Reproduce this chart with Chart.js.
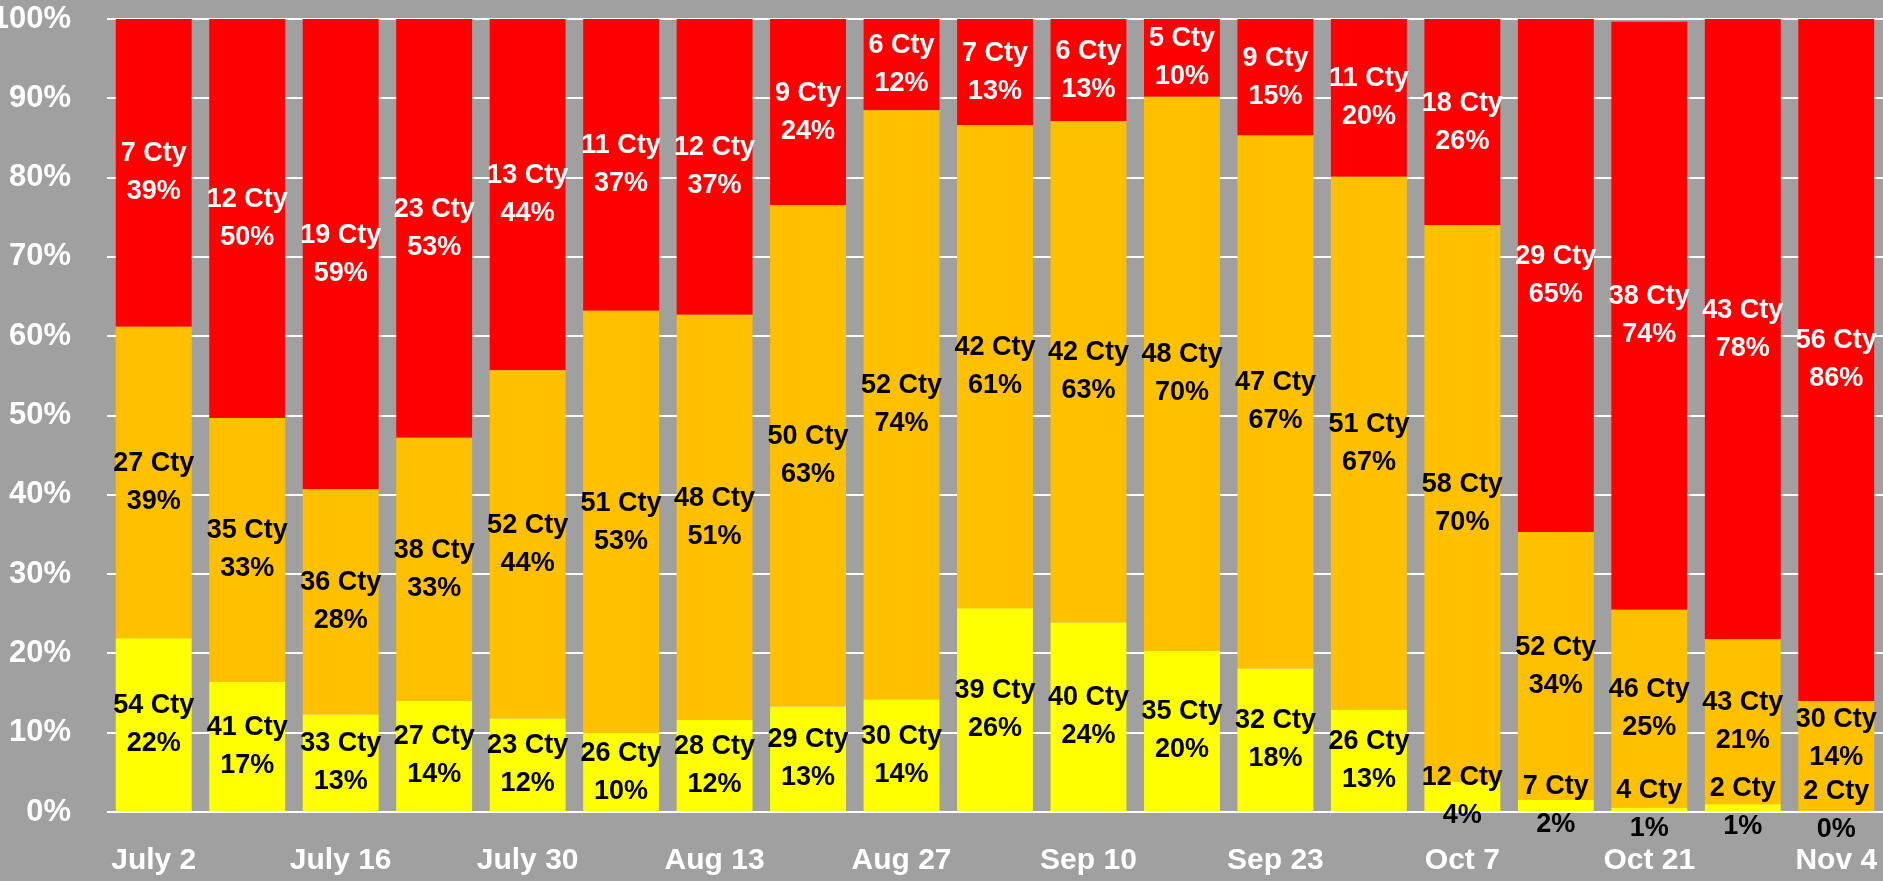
<!DOCTYPE html>
<html>
<head>
<meta charset="utf-8">
<script src="https://cdn.jsdelivr.net/npm/chart.js@4.4.1/dist/chart.umd.min.js"></script>
<style>
  html, body { margin: 0; padding: 0; background: #a0a0a0; }
  canvas { display: block; }
</style>
</head>
<body>
<canvas id="c" width="1883" height="881"></canvas>
<script>
// Categories (weekly report dates; only every other one is labelled on the axis)
const categories = ['July 2','July 9','July 16','July 23','July 30','Aug 6','Aug 13','Aug 20','Aug 27','Sep 3','Sep 10','Sep 16','Sep 23','Sep 30','Oct 7','Oct 14','Oct 21','Oct 28','Nov 4'];

// Segment shares (% of total)
const yellowShare = [21.9,16.4,12.3,14.0,11.8,9.9,11.6,13.3,14.2,25.7,23.9,20.3,18.1,12.9,3.8,1.5,0.55,0.97,0.13];
const orangeShare = [39.3,33.3,28.4,33.2,43.9,53.3,51.1,63.2,74.3,60.9,63.2,69.9,67.2,67.2,70.2,33.8,24.95,20.83,13.87];
const redShare    = [38.8,50.3,59.3,52.8,44.3,36.8,37.3,23.5,11.5,13.4,12.9,9.8,14.7,19.9,26.0,64.7,74.16,78.2,86.0];

// Printed labels: county counts and rounded percentages
const yellowCty = [54,41,33,27,23,26,28,29,30,39,40,35,32,26,12,7,4,2,2];
const orangeCty = [27,35,36,38,52,51,48,50,52,42,42,48,47,51,58,52,46,43,30];
const redCty    = [7,12,19,23,13,11,12,9,6,7,6,5,9,11,18,29,38,43,56];
const yellowPct = [22,17,13,14,12,10,12,13,14,26,24,20,18,13,4,2,1,1,0];
const orangePct = [39,33,28,33,44,53,51,63,74,61,63,70,67,67,70,34,25,21,14];
const redPct    = [39,50,59,53,44,37,37,24,12,13,13,10,15,20,26,65,74,78,86];

// Y-axis ticks
const yTicks = [0,10,20,30,40,50,60,70,80,90,100];

const BG = '#a0a0a0';
const FONT = '"Liberation Sans", Arial, sans-serif';

const bgPlugin = {
  id: 'bg',
  beforeDraw(chart) {
    const ctx = chart.ctx;
    ctx.save();
    ctx.fillStyle = BG;
    ctx.fillRect(0, 0, chart.width, chart.height);
    ctx.restore();
  }
};

const LINE = 38;      // distance between the two label lines
const MIN_SEP = 72;   // min vertical distance between stacked label blocks

const labelPlugin = {
  id: 'segLabels',
  afterDatasetsDraw(chart) {
    const ctx = chart.ctx;
    ctx.save();
    ctx.font = 'bold 27px ' + FONT;
    ctx.textAlign = 'center';
    ctx.textBaseline = 'middle';
    for (let i = 0; i < categories.length; i++) {
      let prev = null;
      chart.data.datasets.forEach((ds, d) => {
        const el = chart.getDatasetMeta(d).data[i];
        const p = el.getProps(['x', 'y', 'base'], true);
        let c = (p.y + p.base) / 2;
        if (prev !== null && prev - c < MIN_SEP) c = prev - MIN_SEP;
        prev = c;
        ctx.fillStyle = ds.labelColor;
        ctx.fillText(ds.cty[i] + ' Cty', p.x, c - LINE / 2);
        ctx.fillText(ds.pct[i] + '%', p.x, c + LINE / 2);
      });
    }
    ctx.restore();
  }
};

new Chart(document.getElementById('c'), {
  type: 'bar',
  data: {
    labels: categories,
    datasets: [
      { data: yellowShare, backgroundColor: '#ffff00', cty: yellowCty, pct: yellowPct, labelColor: '#000000' },
      { data: orangeShare, backgroundColor: '#ffc000', cty: orangeCty, pct: orangePct, labelColor: '#000000' },
      { data: redShare,    backgroundColor: '#ff0000', cty: redCty,    pct: redPct,    labelColor: '#ffffff' }
    ]
  },
  options: {
    responsive: false,
    animation: false,
    layout: { padding: { top: 19, right: 0, bottom: 0, left: 0 } },
    datasets: { bar: { categoryPercentage: 1.0, barPercentage: 0.812, borderWidth: 0 } },
    plugins: { legend: { display: false }, tooltip: { enabled: false } },
    scales: {
      x: {
        stacked: true,
        grid: { display: false, drawTicks: false },
        border: { display: false },
        ticks: {
          autoSkip: false,
          maxRotation: 0,
          padding: 31,
          color: '#ffffff',
          font: { family: FONT, size: 30, weight: 'bold' },
          callback: function(v, i) { return i % 2 === 0 ? categories[i] : ''; }
        },
        afterFit(scale) {
          scale.height = 69;
          scale.paddingLeft = 0; scale.paddingRight = 0;
          scale.paddingTop = 0; scale.paddingBottom = 0;
        }
      },
      y: {
        stacked: true,
        min: 0,
        max: 100,
        afterBuildTicks(scale) { scale.ticks = yTicks.map(v => ({ value: v })); },
        grid: { color: '#ffffff', lineWidth: 2, drawTicks: false },
        border: { display: false },
        ticks: {
          padding: 36,
          color: '#ffffff',
          font: { family: FONT, size: 31, weight: 'bold' },
          callback: v => v + '%'
        },
        afterFit(scale) {
          scale.width = 107;
          scale.paddingTop = 0; scale.paddingBottom = 0;
          scale.paddingLeft = 0; scale.paddingRight = 0;
        }
      }
    }
  },
  plugins: [bgPlugin, labelPlugin]
});
</script>
</body>
</html>
